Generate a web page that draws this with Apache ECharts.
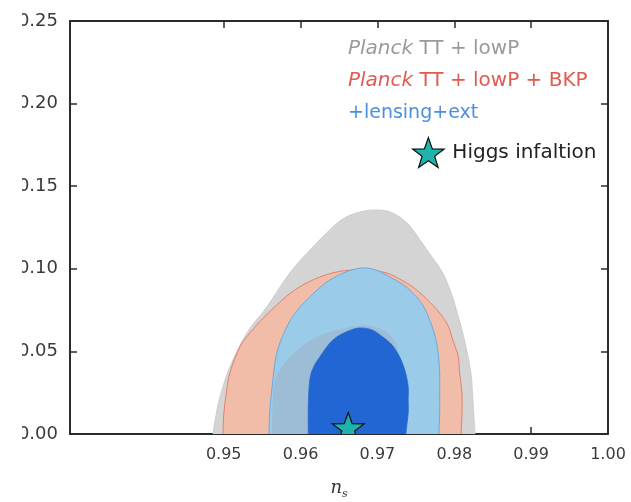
<!DOCTYPE html>
<html>
<head>
<meta charset="utf-8">
<title>n_s – r constraints</title>
<script src="https://cdn.jsdelivr.net/npm/echarts@6/dist/echarts.min.js"></script>
<style>
  html, body { margin: 0; padding: 0; background: #ffffff; }
  #chart { width: 631px; height: 502px; }
</style>
</head>
<body>
<div id="chart"></div>
<script>
// Axis ranges and tick labels
const nsRange = [0.93, 1.00];
const rRange = [0.00, 0.25];
const nsTicks = [0.95, 0.96, 0.97, 0.98, 0.99, 1.00];
const rTicks = [0.00, 0.05, 0.10, 0.15, 0.20, 0.25];

// Confidence-region boundaries, [n_s, r]; the first and last points continue
// just below r = 0 so the contours meet the axis cleanly after clipping.
const planckOuter = [
  [0.9486, -0.006], [0.9486, 0.000], [0.9490, 0.0115], [0.9495, 0.0224], [0.9508, 0.0406],
  [0.9530, 0.0611], [0.9556, 0.0769], [0.9586, 0.0975], [0.9616, 0.1132], [0.9651, 0.1289],
  [0.9677, 0.1344], [0.9701, 0.1356], [0.9720, 0.1338], [0.9739, 0.1275], [0.9755, 0.1178],
  [0.9771, 0.1071], [0.9785, 0.0975], [0.9796, 0.0854], [0.9804, 0.0732], [0.9811, 0.0611],
  [0.9817, 0.0490], [0.9822, 0.0357], [0.9824, 0.0224], [0.9827, 0.000], [0.9827, -0.006]
];
const bkpOuter = [
  [0.9499, -0.006], [0.9499, 0.000], [0.9500, 0.0115], [0.9503, 0.0236], [0.9508, 0.0369],
  [0.9521, 0.0527], [0.9535, 0.0617], [0.9554, 0.0714], [0.9582, 0.0835], [0.9603, 0.0902],
  [0.9625, 0.0950], [0.9647, 0.0981], [0.9668, 0.0993], [0.9690, 0.0993], [0.9712, 0.0975],
  [0.9729, 0.0938], [0.9746, 0.0890], [0.9764, 0.0817], [0.9781, 0.0732], [0.9792, 0.0654],
  [0.9798, 0.0569], [0.9805, 0.0472], [0.9807, 0.0369], [0.9810, 0.0248], [0.9810, 0.0127],
  [0.9809, 0.000], [0.9809, -0.006]
];
const lensOuter = [
  [0.9559, -0.006], [0.9559, 0.000], [0.9560, 0.0145], [0.9563, 0.0285], [0.9569, 0.0490],
  [0.9582, 0.0648], [0.9594, 0.0738], [0.9608, 0.0811], [0.9623, 0.0878], [0.9638, 0.0932],
  [0.9659, 0.0981], [0.9680, 0.1005], [0.9698, 0.0993], [0.9716, 0.0950], [0.9732, 0.0908],
  [0.9746, 0.0854], [0.9759, 0.0781], [0.9768, 0.0690], [0.9775, 0.0593], [0.9779, 0.0490],
  [0.9781, 0.0369], [0.9781, 0.0248], [0.9781, 0.0127], [0.9780, 0.000], [0.9780, -0.006]
];
const bkpInner = [
  [0.9563, -0.006], [0.9563, 0.000], [0.9564, 0.0206], [0.9567, 0.0327], [0.9582, 0.0448],
  [0.9608, 0.0551], [0.9634, 0.0611], [0.9660, 0.0642], [0.9690, 0.0654], [0.9716, 0.0599],
  [0.9729, 0.0448], [0.9732, 0.000], [0.9732, -0.006]
];
const lensInner = [
  [0.9610, -0.006], [0.9610, 0.000], [0.9610, 0.0163], [0.9612, 0.0327], [0.9617, 0.0406],
  [0.9625, 0.0466], [0.9636, 0.0539], [0.9647, 0.0587], [0.9662, 0.0623], [0.9677, 0.0642],
  [0.9693, 0.0630], [0.9707, 0.0587], [0.9719, 0.0539], [0.9729, 0.0466], [0.9736, 0.0381],
  [0.9740, 0.0285], [0.9740, 0.0206], [0.9740, 0.0127], [0.9737, 0.000], [0.9737, -0.006]
];

// Higgs inflation prediction
const higgsPoint = [0.9662, 0.003];

// Legend lines
const legendLines = [
  { text: '{it|Planck} TT + lowP', color: '#9a9a9a', size: 20 },
  { text: '{it|Planck} TT + lowP + BKP', color: '#e25a50', size: 20 },
  { text: '+lensing+ext', color: '#4a8fe6', size: 19 }
];

const FONT = 'DejaVu Sans';
const starPath = 'path://M50 0 L61.76 33.82 L97.55 34.55 L69.02 56.18 L79.39 90.45 L50 70 L20.61 90.45 L30.98 56.18 L2.45 34.55 L38.24 33.82 Z';

// Closed Catmull-Rom curve through the given pixel points, as SVG path data
function smoothClosedPath(pts) {
  const n = pts.length;
  const f = v => v.toFixed(2);
  let d = 'M' + f(pts[0][0]) + ' ' + f(pts[0][1]);
  for (let i = 0; i < n; i++) {
    const p0 = pts[(i - 1 + n) % n], p1 = pts[i], p2 = pts[(i + 1) % n], p3 = pts[(i + 2) % n];
    const c1 = [p1[0] + (p2[0] - p0[0]) / 6, p1[1] + (p2[1] - p0[1]) / 6];
    const c2 = [p2[0] - (p3[0] - p1[0]) / 6, p2[1] - (p3[1] - p1[1]) / 6];
    d += ' C' + f(c1[0]) + ' ' + f(c1[1]) + ' ' + f(c2[0]) + ' ' + f(c2[1]) + ' ' + f(p2[0]) + ' ' + f(p2[1]);
  }
  return d + ' Z';
}

function regionSeries(name, pts, fill, stroke, lw) {
  return {
    type: 'custom',
    name: name,
    clip: true,
    silent: true,
    data: [0],
    renderItem: function (params, api) {
      const px = pts.map(p => api.coord(p));
      return {
        type: 'path',
        shape: { pathData: smoothClosedPath(px) },
        style: { fill: fill, stroke: stroke, lineWidth: lw }
      };
    }
  };
}

const chart = echarts.init(document.getElementById('chart'), null, { renderer: 'canvas' });

const axisLineStyle = { color: '#2b2b2b', width: 2 };
const tickStyle = { color: '#2b2b2b', width: 1.5 };

chart.setOption({
  animation: false,
  backgroundColor: '#ffffff',
  grid: { left: 70, right: 23, top: 21, bottom: 68, containLabel: false, outerBoundsMode: 'none' },
  xAxis: [
    {
      type: 'value', position: 'bottom',
      min: nsRange[0], max: nsRange[1], interval: 0.01,
      axisLine: { show: true, onZero: false, lineStyle: axisLineStyle },
      axisTick: { show: true, inside: true, length: 7, lineStyle: tickStyle, customValues: nsTicks },
      axisLabel: {
        show: true, customValues: nsTicks, margin: 13,
        fontFamily: FONT, fontSize: 16, color: '#3a3a3a',
        formatter: v => v.toFixed(2)
      },
      splitLine: { show: false },
      name: '{n|n}{s|s}',
      nameLocation: 'middle',
      nameGap: 43,
      nameTextStyle: {
        rich: {
          n: { fontFamily: 'DejaVu Serif', fontStyle: 'italic', fontSize: 18, color: '#333', lineHeight: 20, verticalAlign: 'bottom' },
          s: { fontFamily: 'DejaVu Serif', fontStyle: 'italic', fontSize: 11, color: '#333', lineHeight: 20, verticalAlign: 'bottom', padding: [0, 0, -3, 0] }
        }
      }
    },
    {
      type: 'value', position: 'top',
      min: nsRange[0], max: nsRange[1], interval: 0.01,
      axisLine: { show: true, onZero: false, lineStyle: axisLineStyle },
      axisTick: { show: true, inside: true, length: 7, lineStyle: tickStyle, customValues: nsTicks },
      axisLabel: { show: false },
      splitLine: { show: false }
    }
  ],
  yAxis: [
    {
      type: 'value', position: 'left',
      min: rRange[0], max: rRange[1], interval: 0.05,
      axisLine: { show: true, onZero: false, lineStyle: axisLineStyle },
      axisTick: { show: true, inside: true, length: 7, lineStyle: tickStyle, customValues: rTicks },
      axisLabel: {
        show: true, customValues: rTicks, margin: 12,
        fontFamily: FONT, fontSize: 18, color: '#3a3a3a',
        formatter: v => v.toFixed(2)
      },
      splitLine: { show: false }
    },
    {
      type: 'value', position: 'right',
      min: rRange[0], max: rRange[1], interval: 0.05,
      axisLine: { show: true, onZero: false, lineStyle: axisLineStyle },
      axisTick: { show: true, inside: true, length: 7, lineStyle: tickStyle, customValues: rTicks },
      axisLabel: { show: false },
      splitLine: { show: false }
    }
  ],
  legend: {
    show: true,
    left: 412, top: 137,
    padding: 0,
    orient: 'vertical',
    itemWidth: 32, itemHeight: 30,
    selectedMode: false,
    textStyle: { fontFamily: FONT, fontSize: 20, color: '#222', padding: [0, 0, 0, 3] },
    data: [{
      name: 'Higgs infaltion',
      icon: starPath,
      itemStyle: { color: '#1fb3ae', borderColor: '#111', borderWidth: 1.2 }
    }]
  },
  graphic: [
    // white margin strip at the far left of the figure
    { type: 'rect', left: 0, top: 0, z: 200, shape: { width: 22, height: 502 }, style: { fill: '#ffffff' } }
  ].concat(legendLines.map((ln, i) => ({
    type: 'text',
    x: 348, y: 49 + i * 32, z: 100,
    style: {
      text: ln.text,
      fill: ln.color,
      font: ln.size + 'px "DejaVu Sans"',
      verticalAlign: 'middle',
      rich: { it: { fontStyle: 'italic', fontFamily: FONT, fontSize: ln.size, fill: ln.color } }
    }
  }))),
  series: [
    regionSeries('Planck TT+lowP', planckOuter, '#d4d4d4', '#c8c8c8', 0.8),
    regionSeries('Planck TT+lowP+BKP', bkpOuter, '#f1bda9', '#e3806d', 1),
    regionSeries('+lensing+ext', lensOuter, '#9acbe8', '#6fa8de', 1),
    regionSeries('BKP 68%', bkpInner, '#9dbcd6', null, 0),
    regionSeries('lensing 68%', lensInner, '#2166d2', '#2a6ad0', 0.8),
    {
      type: 'custom',
      name: 'Higgs infaltion',
      clip: true,
      data: [higgsPoint],
      itemStyle: { color: '#1fb3ae' },
      renderItem: function (params, api) {
        const c = api.coord([api.value(0), api.value(1)]);
        const w = 32, h = 30;
        return {
          type: 'path',
          shape: { pathData: starPath.slice(7), x: c[0] - w / 2, y: c[1] - 50 * h / 90.45, width: w, height: h, layout: 'cover' },
          style: { fill: '#1fb3ae', stroke: '#111', lineWidth: 1.2 }
        };
      }
    }
  ]
});
</script>
</body>
</html>
